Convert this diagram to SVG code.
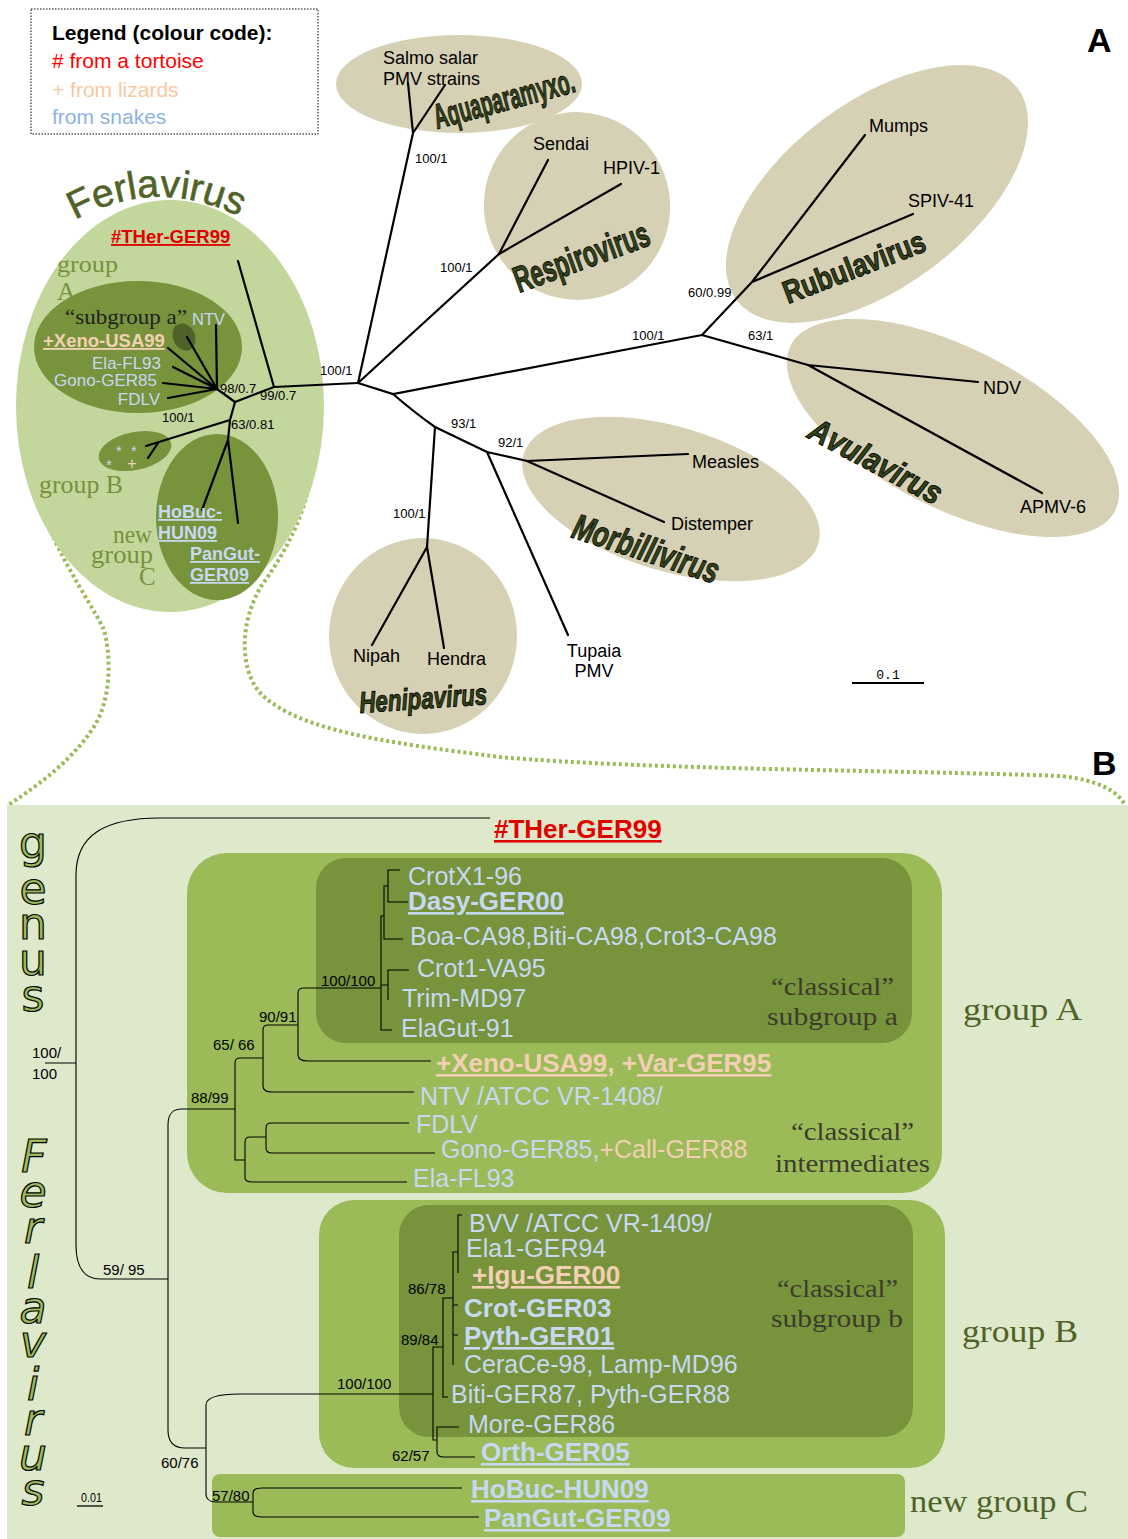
<svg xmlns="http://www.w3.org/2000/svg" width="1128" height="1539" viewBox="0 0 1128 1539">
<defs>
<style>
.t{font-family:"Liberation Sans",Arial,sans-serif}
.b{font-weight:bold}
.br{fill:none;stroke:#000;stroke-width:2.2;stroke-linecap:round}
.bb{fill:none;stroke:#000;stroke-width:1.1}
.tan{fill:#d6d1b4}
.wa{font-family:"Liberation Sans",Arial,sans-serif;font-weight:bold;fill:#34421a;stroke:#000;stroke-width:0.9}
.deco{font-family:"Liberation Serif","Times New Roman",serif}
.dot{fill:none;stroke:#9bbb59;stroke-width:4;stroke-dasharray:3 3}
.lb{fill:#c6d9f1}
.pe{fill:#f3d0b4}
.rd{fill:#e00000}
.s13{font-size:13px}
.s15{font-size:15px}
.s17{font-size:17px}
.s18{font-size:18px}
.s24{font-size:25px}
.s26{font-size:26px}
.big{font-family:"DejaVu Sans",Verdana,sans-serif;font-size:44px;fill:#9bbb59;stroke:#000;stroke-width:1.2}
</style>
<path id="ferArc" d="M 68,224 Q 156,172 246,220"/>
</defs>

<rect width="1128" height="1539" fill="#fff"/>

<!-- ===== Panel A ===== -->
<g id="legend">
<rect x="31" y="9" width="287" height="125" fill="none" stroke="#000" stroke-width="1" stroke-dasharray="1.5 1.5"/>
<text class="t b" x="52" y="40" font-size="21">Legend (colour code):</text>
<text class="t" x="52" y="68" font-size="21" fill="#ff0000"># from a tortoise</text>
<text class="t" x="52" y="97" font-size="21" fill="#fac8a0">+ from lizards</text>
<text class="t" x="52" y="124" font-size="21" fill="#8db3e2">from snakes</text>
</g>
<text class="t b" x="1087" y="52" font-size="34">A</text>

<!-- dotted zoom lines from the Ferlavirus ellipse to panel B -->
<g id="zoom-lines">
<path class="dot" d="M 35,480 C 45,540 90,600 104,630 C 112,660 110,700 95,725 C 70,765 30,790 7,806"/>
<path class="dot" d="M 312,470 C 305,520 280,560 262,585 C 240,620 238,670 262,695 C 300,730 380,742 500,757 C 650,770 900,770 1060,776 C 1100,780 1118,792 1125,805"/>
</g>

<g id="aquaparamyxo">
<ellipse class="tan" cx="459" cy="84" rx="123" ry="49"/>
<text class="t s18" x="383" y="64">Salmo salar</text>
<text class="t s18" x="383" y="85">PMV strains</text>
<text class="wa" font-size="35" transform="translate(437,129) rotate(-15)" textLength="145" lengthAdjust="spacingAndGlyphs">Aquaparamyxo.</text>
</g>
<g id="respirovirus">
<ellipse class="tan" cx="577" cy="206" rx="93" ry="94" transform="rotate(-20 577 206)"/>
<text class="t s18" x="533" y="150">Sendai</text>
<text class="t s18" x="603" y="174">HPIV-1</text>
<text class="wa" font-size="37" transform="translate(519,293) rotate(-20)" textLength="142" lengthAdjust="spacingAndGlyphs">Respirovirus</text>
</g>
<g id="rubulavirus">
<ellipse class="tan" cx="877" cy="194" rx="176" ry="92" transform="rotate(-37 877 194)"/>
<text class="t s18" x="869" y="132">Mumps</text>
<text class="t s18" x="908" y="207">SPIV-41</text>
<text class="wa" font-size="32" transform="translate(788,304) rotate(-21)" textLength="150" lengthAdjust="spacingAndGlyphs">Rubulavirus</text>
</g>
<g id="avulavirus">
<ellipse class="tan" cx="953" cy="428" rx="182" ry="80" transform="rotate(27 953 428)"/>
<text class="t s18" x="983" y="394">NDV</text>
<text class="t s18" x="1020" y="513">APMV-6</text>
<text class="wa" font-size="33" font-style="italic" transform="translate(806,437) rotate(28)" textLength="146" lengthAdjust="spacingAndGlyphs">Avulavirus</text>
</g>
<g id="morbillivirus">
<ellipse class="tan" cx="671" cy="499" rx="154" ry="72" transform="rotate(17 671 499)"/>
<text class="t s18" x="692" y="468">Measles</text>
<text class="t s18" x="671" y="530">Distemper</text>
<text class="wa" font-size="36" font-style="italic" transform="translate(570,537) rotate(18)" textLength="152" lengthAdjust="spacingAndGlyphs">Morbillivirus</text>
</g>
<g id="henipavirus">
<ellipse class="tan" cx="423" cy="636" rx="94" ry="98"/>
<text class="t s18" x="353" y="662">Nipah</text>
<text class="t s18" x="427" y="665">Hendra</text>
<text class="wa" font-size="30" font-style="italic" transform="translate(360,713) rotate(-4)" textLength="128" lengthAdjust="spacingAndGlyphs">Henipavirus</text>
</g>
<g id="tupaia">
<text class="t s18" x="594" y="657" text-anchor="middle">Tupaia</text>
<text class="t s18" x="594" y="677" text-anchor="middle">PMV</text>
</g>

<g id="ferlavirus-a">
<ellipse cx="170" cy="406" rx="154" ry="206" fill="#c3d69b"/>
<ellipse cx="138" cy="347" rx="104" ry="66" fill="#77933c"/>
<ellipse cx="184" cy="337" rx="11" ry="14" fill="#4f6228" transform="rotate(-25 184 337)"/>
<ellipse cx="135" cy="451" rx="37" ry="19" fill="#77933c" transform="rotate(-12 135 451)"/>
<ellipse cx="217" cy="517" rx="61" ry="83" fill="#77933c"/>
<text class="t" font-size="39" fill="#4f6228" stroke="#4f6228" stroke-width="0.6"><textPath href="#ferArc" startOffset="50%" text-anchor="middle">Ferlavirus</textPath></text>
</g>

<!-- unrooted tree of panel A -->
<g id="tree-a" class="br">
<path d="M358,383 L413,133 M413,133 L408,83 M413,133 L445,85"/>
<path d="M358,383 L499,254 M499,254 L548,160 M499,254 L621,184"/>
<path d="M358,383 L393,394 L702,335 M702,335 L752,282 M752,282 L865,135 M752,282 L913,214 M702,335 L808,365 M808,365 L978,382 M808,365 L1042,493"/>
<path d="M393,394 Q415,413 435,427 M435,427 L427,547 M427,547 L372,645 M427,547 L444,648"/>
<path d="M435,427 L487,452 M487,452 L568,635 M487,452 L527,461 M527,461 L688,454 M527,461 L664,522"/>
<path d="M358,383 L274,387 M274,387 L238,261 M274,387 L235,402 M235,402 L217,389"/>
<path d="M217,389 L216,325 M217,389 L168,348 M217,389 L187,337 M217,389 L173,367 M217,389 L163,383 M217,389 L168,398"/>
<path d="M235,402 L230,420 M230,420 L146,446 M158,443 L148,458 M230,420 L228,440 M228,440 L202,510 M228,440 L238,523"/>
</g>

<g id="labels-a">
<text class="t s13" x="415" y="163">100/1</text>
<text class="t s13" x="440" y="272">100/1</text>
<text class="t s13" x="688" y="297">60/0.99</text>
<text class="t s13" x="632" y="340">100/1</text>
<text class="t s13" x="748" y="340">63/1</text>
<text class="t s13" x="451" y="428">93/1</text>
<text class="t s13" x="498" y="447">92/1</text>
<text class="t s13" x="393" y="518">100/1</text>
<text class="t s13" x="320" y="375">100/1</text>
<text class="t s13" x="220" y="393">98/0.7</text>
<text class="t s13" x="260" y="400">99/0.7</text>
<text class="t s13" x="162" y="422">100/1</text>
<text class="t s13" x="231" y="429">63/0.81</text>
<text class="t b rd" x="111" y="243" font-size="18.5" text-decoration="underline">#THer-GER99</text>
<text class="deco" x="57" y="272" font-size="24" fill="#76923c" textLength="61" lengthAdjust="spacingAndGlyphs">group</text>
<text class="deco" x="57" y="300" font-size="26" fill="#76923c">A</text>
<text class="deco" x="65" y="324" font-size="21" fill="#222" textLength="122" lengthAdjust="spacingAndGlyphs">“subgroup a”</text>
<text class="t lb" x="192" y="325" font-size="16.5">NTV</text>
<text class="t b pe" x="43" y="347" font-size="18.5" text-decoration="underline">+Xeno-USA99</text>
<text class="t lb s17" x="161" y="369" text-anchor="end">Ela-FL93</text>
<text class="t lb s17" x="157" y="386" text-anchor="end">Gono-GER85</text>
<text class="t lb s17" x="160" y="405" text-anchor="end">FDLV</text>
<text class="t lb" x="116" y="456" font-size="15">*</text>
<text class="t lb" x="131" y="456" font-size="15">*</text>
<text class="t lb" x="106" y="470" font-size="15">*</text>
<text class="t pe" x="127" y="469" font-size="17">+</text>
<text class="deco" x="39" y="493" font-size="25" fill="#76923c" textLength="84" lengthAdjust="spacingAndGlyphs">group B</text>
<text class="deco" x="113" y="543" font-size="25" fill="#76923c" textLength="39" lengthAdjust="spacingAndGlyphs">new</text>
<text class="deco" x="91" y="563" font-size="25" fill="#76923c" textLength="62" lengthAdjust="spacingAndGlyphs">group</text>
<text class="deco" x="139" y="585" font-size="25" fill="#76923c">C</text>
<text class="t b lb s18" x="158" y="518" text-decoration="underline">HoBuc-</text>
<text class="t b lb s18" x="158" y="539" text-decoration="underline">HUN09</text>
<text class="t b lb s18" x="190" y="560" text-decoration="underline">PanGut-</text>
<text class="t b lb s18" x="190" y="581" text-decoration="underline">GER09</text>
</g>

<g id="scale-a">
<line x1="852" y1="683" x2="924" y2="683" stroke="#000" stroke-width="2"/>
<text x="888" y="679" font-family="'Liberation Mono',monospace" font-size="13" text-anchor="middle">0.1</text>
</g>

<!-- ===== Panel B ===== -->
<text class="t b" x="1092" y="775" font-size="34">B</text>
<g id="panel-b-bg">
<rect x="7" y="805" width="1121" height="734" fill="#dee8ca"/>
</g>
<g id="group-a">
<rect x="187" y="853" width="755" height="340" rx="40" fill="#9bbb59"/>
<rect x="316" y="858" width="596" height="185" rx="30" fill="#77933c"/>
</g>
<g id="group-b">
<rect x="319" y="1200" width="626" height="268" rx="35" fill="#9bbb59"/>
<rect x="399" y="1205" width="514" height="232" rx="30" fill="#77933c"/>
</g>
<g id="group-c">
<rect x="212" y="1474" width="693" height="63" rx="8" fill="#9bbb59"/>
</g>

<!-- rooted tree of panel B -->
<g id="tree-b" class="bb">
<path d="M45,1063 H76 M76,1063 V875 C76,835 105,818 160,818 H490 M76,1063 V1245 C76,1268 85,1279 100,1279 H168"/>
<path d="M168,1279 V1125 C168,1114 172,1109 182,1109 H235 M168,1279 V1430 C168,1442 173,1448 185,1448 H206"/>
<path d="M235,1109 V1063 C235,1060 237,1058 240,1058 H263 M235,1109 V1160 H245"/>
<path d="M245,1160 V1142 C245,1139 247,1137 250,1137 H266 M245,1160 V1178 C245,1181 248,1182 253,1182 H407"/>
<path d="M266,1137 V1128 C266,1125 268,1123 271,1123 H409 M266,1137 V1148 C266,1151 268,1153 272,1153 H435"/>
<path d="M263,1058 V1030 C263,1027 265,1025 268,1025 H298 M263,1058 V1086 C263,1090 266,1092 272,1092 H414"/>
<path d="M298,1025 V993 C298,990 300,988 304,988 H381 M298,1025 V1055 C298,1059 302,1061 308,1061 H431"/>
<path d="M400,870 H388 V902 H408 M388,886 H384 V939 H403 M409,970 H388 V1000 M384,916 H381 V1030 H392 M381,985 H388"/>
<path d="M206,1448 V1405 C206,1398 215,1394 240,1394 H433 M206,1448 V1494 C206,1499 210,1502 216,1502 H253"/>
<path d="M253,1502 V1493 C253,1490 255,1488 262,1488 H462 M253,1502 V1512 C253,1515 256,1517 262,1517 H479"/>
<path d="M433,1394 V1347 H443 M433,1394 V1440 H437 M437,1440 V1427 H459 M437,1440 V1452 C437,1456 440,1457 444,1457 H475"/>
<path d="M443,1347 V1298 H453 M443,1347 V1397 H448 M453,1298 V1252 H458 M453,1298 V1365 M453,1305 H458 M453,1335 H458 M462,1215 H458 V1273"/>
</g>

<g id="genus-label">
<text class="big" text-anchor="middle"><tspan x="33" y="858">g</tspan><tspan x="33" y="904">e</tspan><tspan x="33" y="939">n</tspan><tspan x="33" y="975">u</tspan><tspan x="33" y="1011">s</tspan></text>
<text class="big" text-anchor="middle" font-style="italic"><tspan x="34" y="1172">F</tspan><tspan x="33" y="1207">e</tspan><tspan x="33" y="1243">r</tspan><tspan x="33" y="1288">l</tspan><tspan x="33" y="1323">a</tspan><tspan x="33" y="1357">v</tspan><tspan x="33" y="1400">i</tspan><tspan x="33" y="1435">r</tspan><tspan x="33" y="1470">u</tspan><tspan x="33" y="1505">s</tspan></text>
</g>

<g id="support-b">
<text class="t s15" x="32" y="1058">100/</text>
<text class="t s15" x="32" y="1079">100</text>
<text class="t s15" x="321" y="986">100/100</text>
<text class="t s15" x="259" y="1022">90/91</text>
<text class="t s15" x="213" y="1050">65/ 66</text>
<text class="t s15" x="191" y="1103">88/99</text>
<text class="t s15" x="103" y="1275">59/ 95</text>
<text class="t s15" x="408" y="1294">86/78</text>
<text class="t s15" x="401" y="1345">89/84</text>
<text class="t s15" x="337" y="1389">100/100</text>
<text class="t s15" x="392" y="1461">62/57</text>
<text class="t s15" x="161" y="1468">60/76</text>
<text class="t s15" x="212" y="1501">57/80</text>
</g>

<g id="scale-b">
<line x1="77" y1="1506" x2="103" y2="1506" stroke="#000" stroke-width="1.3"/>
<text class="t" x="81" y="1502" font-size="13" textLength="21" lengthAdjust="spacingAndGlyphs">0.01</text>
</g>

<g id="tips-b">
<text class="t b rd s26" x="494" y="838" text-decoration="underline">#THer-GER99</text>
<text class="t lb s24" x="408" y="885">CrotX1-96</text>
<text class="t b lb s26" x="408" y="910" text-decoration="underline">Dasy-GER00</text>
<text class="t lb s24" x="410" y="945">Boa-CA98,Biti-CA98,Crot3-CA98</text>
<text class="t lb s24" x="417" y="977">Crot1-VA95</text>
<text class="t lb s24" x="402" y="1007">Trim-MD97</text>
<text class="t lb s24" x="401" y="1037">ElaGut-91</text>
<text class="t b pe s26" x="436" y="1072"><tspan text-decoration="underline">+Xeno-USA99</tspan>, +<tspan text-decoration="underline">Var-GER95</tspan></text>
<text class="t lb s24" x="420" y="1105">NTV /ATCC VR-1408/</text>
<text class="t lb s24" x="416" y="1133">FDLV</text>
<text class="t s24" x="441" y="1158"><tspan class="lb">Gono-GER85,</tspan><tspan class="pe">+Call-GER88</tspan></text>
<text class="t lb s24" x="413" y="1187">Ela-FL93</text>
<text class="t lb s24" x="469" y="1232">BVV /ATCC VR-1409/</text>
<text class="t lb s24" x="466" y="1257">Ela1-GER94</text>
<text class="t b pe s26" x="472" y="1284" text-decoration="underline">+Igu-GER00</text>
<text class="t b lb s26" x="464" y="1317">Crot-GER03</text>
<text class="t b lb s26" x="464" y="1345" text-decoration="underline">Pyth-GER01</text>
<text class="t lb s24" x="464" y="1373">CeraCe-98, Lamp-MD96</text>
<text class="t lb s24" x="451" y="1403">Biti-GER87, Pyth-GER88</text>
<text class="t lb s24" x="468" y="1433">More-GER86</text>
<text class="t b lb s26" x="481" y="1461" text-decoration="underline">Orth-GER05</text>
<text class="t b lb s26" x="471" y="1498" text-decoration="underline">HoBuc-HUN09</text>
<text class="t b lb s26" x="484" y="1527" text-decoration="underline">PanGut-GER09</text>
</g>

<g id="group-labels-b">
<text class="deco" x="771" y="995" font-size="25" fill="#3c3c2c" textLength="123" lengthAdjust="spacingAndGlyphs">“classical”</text>
<text class="deco" x="767" y="1025" font-size="25" fill="#3c3c2c" textLength="131" lengthAdjust="spacingAndGlyphs">subgroup a</text>
<text class="deco" x="791" y="1140" font-size="25" fill="#3c3c2c" textLength="123" lengthAdjust="spacingAndGlyphs">“classical”</text>
<text class="deco" x="775" y="1172" font-size="25" fill="#3c3c2c" textLength="155" lengthAdjust="spacingAndGlyphs">intermediates</text>
<text class="deco" x="777" y="1297" font-size="25" fill="#3c3c2c" textLength="121" lengthAdjust="spacingAndGlyphs">“classical”</text>
<text class="deco" x="771" y="1327" font-size="25" fill="#3c3c2c" textLength="132" lengthAdjust="spacingAndGlyphs">subgroup b</text>
<text class="deco" x="963" y="1020" font-size="32" fill="#4f6228" textLength="119" lengthAdjust="spacingAndGlyphs">group A</text>
<text class="deco" x="962" y="1342" font-size="32" fill="#4f6228" textLength="116" lengthAdjust="spacingAndGlyphs">group B</text>
<text class="deco" x="910" y="1512" font-size="32" fill="#4f6228" textLength="178" lengthAdjust="spacingAndGlyphs">new group C</text>
</g>
</svg>
